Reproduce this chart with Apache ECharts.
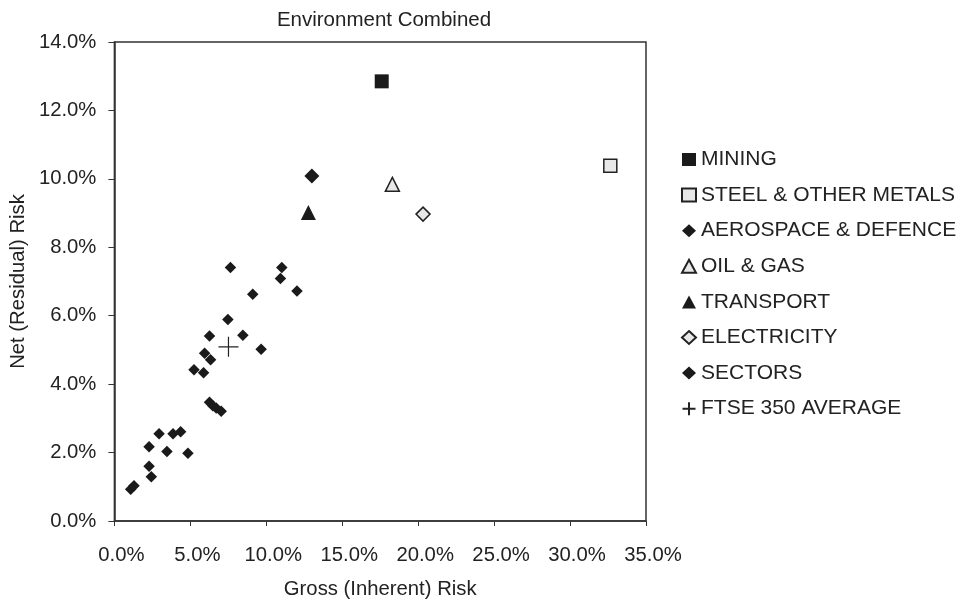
<!DOCTYPE html>
<html>
<head>
<meta charset="utf-8">
<script src="https://cdn.jsdelivr.net/npm/echarts@6/dist/echarts.min.js"></script>
<style>
  html, body { margin: 0; padding: 0; background: #fff; }
  #main { width: 969px; height: 604px; }
</style>
</head>
<body>
<div id="main"></div>
<script>
  // values are in percent: [gross, net]
  var mining = [[17.6, 12.85]];
  var steel = [[32.65, 10.38]];
  var aerospace = [[13.0, 10.08]];
  var oilGas = [[18.3, 9.84]];
  var transport = [[12.77, 9.02]];
  var electricity = [[20.32, 8.97]];
  var sectors = [
    [1.07, 0.93], [1.29, 1.03], [2.28, 1.60], [2.43, 1.29], [2.28, 2.17],
    [2.94, 2.55], [3.46, 2.03], [3.86, 2.55], [4.36, 2.61], [4.84, 1.98],
    [5.24, 4.42], [5.87, 4.33], [6.33, 4.71], [5.94, 4.90], [6.26, 3.47],
    [6.48, 3.37], [6.70, 3.30], [7.03, 3.21], [7.64, 7.41], [11.02, 7.41],
    [10.93, 7.09], [9.11, 6.63], [12.02, 6.72], [7.47, 5.89], [6.26, 5.41],
    [8.46, 5.43], [9.66, 5.02]
  ];
  var ftseAverage = [[7.51, 5.09]];

  var chart = echarts.init(document.getElementById('main'));
  var font = 'Liberation Sans, Arial, sans-serif';
  var dark = '#1a1a1a';
  var light = '#e8e8e8';
  var cross = 'path://M0,5 L10,5 M5,0 L5,10';

  function pct(v) { return v.toFixed(1) + '%'; }

  var option = {
    animation: false,
    textStyle: { fontFamily: font, color: '#222' },
    title: {
      text: 'Environment Combined',
      left: 379, top: 5, textAlign: 'center',
      textStyle: { fontSize: 20.5, fontWeight: 'normal', color: '#222', fontFamily: font }
    },
    grid: {
      left: 113, right: 323, top: 42, bottom: 75,
      show: true, borderColor: '#333', borderWidth: 1.5
    },
    legend: {
      orient: 'vertical',
      left: 675, top: 144,
      itemWidth: 14, itemHeight: 13, itemGap: 14.6,
      textStyle: { fontSize: 21, color: '#222', fontFamily: font, lineHeight: 21 },
      data: [
        { name: 'MINING', icon: 'rect' },
        { name: 'STEEL & OTHER METALS', icon: 'rect' },
        { name: 'AEROSPACE & DEFENCE', icon: 'diamond' },
        { name: 'OIL & GAS', icon: 'triangle' },
        { name: 'TRANSPORT', icon: 'triangle' },
        { name: 'ELECTRICITY', icon: 'diamond' },
        { name: 'SECTORS', icon: 'diamond' },
        { name: 'FTSE 350 AVERAGE', icon: cross }
      ]
    },
    xAxis: {
      type: 'value', min: 0, max: 35, interval: 5,
      name: 'Gross (Inherent) Risk', nameLocation: 'middle', nameGap: 58,
      nameTextStyle: { fontSize: 20.3, color: '#222' },
      axisLine: { lineStyle: { color: '#333', width: 1.5 } },
      axisTick: { show: true, length: 5, lineStyle: { color: '#333' } },
      axisLabel: { fontSize: 20.3, color: '#222', margin: 24, padding: [0, 0, 0, 14], formatter: pct },
      splitLine: { show: false }
    },
    yAxis: {
      type: 'value', min: 0, max: 14, interval: 2,
      name: 'Net (Residual) Risk', nameLocation: 'middle', nameGap: 84,
      nameTextStyle: { fontSize: 20.3, color: '#222' },
      axisLine: { show: true, lineStyle: { color: '#333', width: 1.5 } },
      axisTick: { show: true, length: 6, lineStyle: { color: '#333' } },
      axisLabel: { fontSize: 20.3, color: '#222', margin: 18, formatter: pct },
      splitLine: { show: false }
    },
    series: [
      {
        name: 'MINING', type: 'scatter', data: mining,
        symbol: 'rect', symbolSize: 14,
        itemStyle: { color: dark, opacity: 1 }
      },
      {
        name: 'STEEL & OTHER METALS', type: 'scatter', data: steel,
        symbol: 'rect', symbolSize: 13,
        itemStyle: { color: light, borderColor: '#222', borderWidth: 1.5, opacity: 1 }
      },
      {
        name: 'AEROSPACE & DEFENCE', type: 'scatter', data: aerospace,
        symbol: 'diamond', symbolSize: 15,
        itemStyle: { color: dark, opacity: 1 }
      },
      {
        name: 'OIL & GAS', type: 'scatter', data: oilGas,
        symbol: 'triangle', symbolSize: 14,
        itemStyle: { color: light, borderColor: '#222', borderWidth: 1.5, opacity: 1 }
      },
      {
        name: 'TRANSPORT', type: 'scatter', data: transport,
        symbol: 'triangle', symbolSize: 15,
        itemStyle: { color: dark, opacity: 1 }
      },
      {
        name: 'ELECTRICITY', type: 'scatter', data: electricity,
        symbol: 'diamond', symbolSize: 14,
        itemStyle: { color: light, borderColor: '#222', borderWidth: 1.5, opacity: 1 }
      },
      {
        name: 'SECTORS', type: 'scatter', data: sectors,
        symbol: 'diamond', symbolSize: 11.5,
        itemStyle: { color: dark, opacity: 1 }
      },
      {
        name: 'FTSE 350 AVERAGE', type: 'scatter', data: ftseAverage,
        symbol: cross, symbolSize: 20,
        itemStyle: { color: 'none', borderColor: '#222', borderWidth: 1.2, opacity: 1 }
      }
    ]
  };
  chart.setOption(option);
</script>
</body>
</html>
